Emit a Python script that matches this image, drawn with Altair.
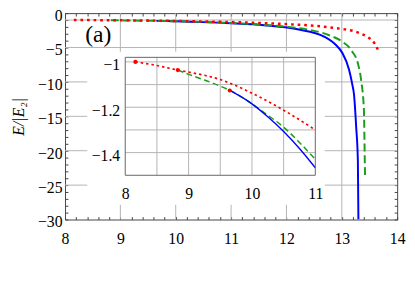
import altair as alt
import pandas as pd

# ---------------- data ----------------
RED_X = [8.16, 8.5, 8.83, 9.0, 9.5, 10.0, 10.5, 11.0, 11.5, 12.0, 12.5, 13.0, 13.2, 13.35, 13.45, 13.55, 13.6, 13.65]
RED_Y = [-1.0, -1.016, -1.036, -1.045, -1.078, -1.138, -1.213, -1.30, -1.42, -1.60, -1.84, -2.3, -2.58, -3.0, -3.4, -4.0, -4.5, -5.3]

GREEN_X = [8.83, 9.0, 9.25, 9.5, 9.75, 10.0, 10.25, 10.5, 10.75, 11.0, 11.6, 12.0, 12.4, 12.8, 13.0, 13.19, 13.29, 13.35, 13.40, 13.41, 13.42]
GREEN_Y = [-1.036, -1.055, -1.08, -1.107, -1.14, -1.185, -1.235, -1.288, -1.355, -1.43, -1.72, -1.98, -2.4, -3.3, -4.1, -5.6, -7.3, -9.8, -14.2, -19.0, -23.8]

BLUE_X = [9.65, 10.0, 10.25, 10.5, 10.75, 11.0, 11.6, 12.2, 12.68, 12.89, 13.01, 13.13, 13.19, 13.22, 13.26, 13.29, 13.30]
BLUE_Y = [-1.126, -1.185, -1.242, -1.307, -1.382, -1.467, -1.75, -2.35, -3.4, -4.6, -5.8, -8.2, -10.4, -11.8, -16.6, -21.4, -30.0]

START_X = [8.16, 8.83, 9.65]
START_Y = [-1.0, -1.036, -1.126]

X_LABELS = [8, 9, 10, 11, 12, 13, 14]
X_GRID = [9, 10, 11, 12, 13]
X_TICKS = [8.0, 8.2, 8.4, 8.6, 8.8, 9.0, 9.2, 9.4, 9.6, 9.8, 10.0, 10.2, 10.4, 10.6, 10.8, 11.0,
           11.2, 11.4, 11.6, 11.8, 12.0, 12.2, 12.4, 12.6, 12.8, 13.0, 13.2, 13.4, 13.6, 13.8, 14.0]
Y_LABELS = [-30, -25, -20, -15, -10, -5, 0]
Y_GRID = [-25, -20, -15, -10, -5, -1]
Y_TICKS = list(range(-30, 1))
INSET_X_LABELS = [8, 9, 10, 11]
INSET_Y_LABELS = [-1.0, -1.2, -1.4]
INSET_GX = [8.5, 9.0, 9.5, 10.0, 10.5]
INSET_GY = [-1.0, -1.1, -1.2, -1.3, -1.4]
PANEL_LABEL = "(a)"
Y_TITLE = "E/|E₂|"

# ---------------- layout / style ----------------
SERIF = "Liberation Serif"
FRAME = "#444444"
GRID = "#b4b4b4"
RED, GREEN, BLUE = "#ff0000", "#1a9e1a", "#0000ff"
W, H = 338, 210
X_DOMAIN, Y_DOMAIN = [8, 14], [-30, 0]
INSET_X_DOMAIN, INSET_Y_DOMAIN = [8, 11], [-1.5, -0.98]
INSET_X_RANGE, INSET_Y_RANGE = [61.3, 254.7], [165, 45]
INSET_BG = {"x0": 7.40, "x1": 11.15, "y0": -1.63, "y1": -0.955}
LABEL_POS = {"x": 8.6, "y": -3.2}


def series_df(xs, ys):
    return pd.DataFrame({"x": xs, "y": ys})


df_red = series_df(RED_X, RED_Y)
df_green = series_df(GREEN_X, GREEN_Y)
df_blue = series_df(BLUE_X, BLUE_Y)
df_start = series_df(START_X, START_Y)

main_x_scale = alt.Scale(domain=X_DOMAIN, nice=False, zero=False)
main_y_scale = alt.Scale(domain=Y_DOMAIN, nice=False, zero=False)


def mx(field, axis):
    return alt.X(f"{field}:Q", scale=main_x_scale, axis=axis)


def my(field, axis):
    return alt.Y(f"{field}:Q", scale=main_y_scale, axis=axis)


label_style = dict(labelFont=SERIF, labelFontSize=16, labelColor="black",
                   labelFlush=False, labelOverlap=False)

# labels (no ticks) on bottom / left
bottom_label_axis = alt.Axis(
    orient="bottom", values=X_LABELS, ticks=False, tickSize=0, domain=False, format="d",
    labelPadding=11, grid=False, title=None, zindex=0, **label_style)
left_label_axis = alt.Axis(
    orient="left", values=Y_LABELS, ticks=False, tickSize=0, domain=False, format="d",
    labelPadding=3, labelOffset=2.5, grid=False,
    title=Y_TITLE, titleFont=SERIF, titleFontStyle="italic", titleFontWeight="normal",
    titleFontSize=16, titleColor="black", titlePadding=11, zindex=0, **label_style)


# inward minor ticks on all four sides
def tick_axis(orient, values):
    return alt.Axis(orient=orient, values=values, offset=-3, tickSize=3, tickColor=FRAME,
                    tickWidth=1, domain=False, labels=False, grid=False, title=None, zindex=0)


# main grid lines as full-span rules
grid_vx = alt.Chart(pd.DataFrame({"gx": X_GRID})).mark_rule(color=GRID, strokeWidth=1).encode(
    x=mx("gx", None))
grid_hy = alt.Chart(pd.DataFrame({"gy": Y_GRID})).mark_rule(color=GRID, strokeWidth=1).encode(
    y=my("gy", None))

blue_main = alt.Chart(df_blue).mark_line(color=BLUE, strokeWidth=2, interpolate="monotone", clip=True).encode(
    x=mx("x", bottom_label_axis), y=my("y", left_label_axis))
green_main = alt.Chart(df_green).mark_line(color=GREEN, strokeWidth=2, strokeDash=[8, 4], interpolate="monotone", clip=True).encode(
    x=mx("x", tick_axis("top", X_TICKS)), y=my("y", tick_axis("right", Y_TICKS)))
red_main = alt.Chart(df_red).mark_line(color=RED, strokeWidth=2.5, strokeDash=[2.7, 4], interpolate="monotone", clip=True).encode(
    x=mx("x", tick_axis("bottom", X_TICKS)), y=my("y", tick_axis("left", Y_TICKS)))
panel_label = alt.Chart(pd.DataFrame({"x": [LABEL_POS["x"]], "y": [LABEL_POS["y"]], "t": [PANEL_LABEL]})).mark_text(
    font=SERIF, fontSize=24, align="center", baseline="middle", color="black").encode(
    x=mx("x", None), y=my("y", None), text="t:N")

main = alt.layer(grid_vx, grid_hy, blue_main, green_main, red_main, panel_label).resolve_axis(
    x="independent", y="independent")

# ---------------- inset ----------------
inset_x_scale = alt.Scale(domain=INSET_X_DOMAIN, range=INSET_X_RANGE, nice=False, zero=False)
inset_y_scale = alt.Scale(domain=INSET_Y_DOMAIN, range=INSET_Y_RANGE, nice=False, zero=False)


def ix(field, axis=None):
    return alt.X(f"{field}:Q", scale=inset_x_scale, axis=axis)


def iy(field, axis=None):
    return alt.Y(f"{field}:Q", scale=inset_y_scale, axis=axis)


inset_x_axis = alt.Axis(orient="bottom", offset=-45, values=INSET_X_LABELS, format="d", ticks=False,
                        tickSize=0, domain=False, grid=False, labelPadding=10.5, title=None,
                        zindex=2, **label_style)
inset_y_axis = alt.Axis(orient="left", offset=-61.3, values=INSET_Y_LABELS, format="~g", ticks=False,
                        tickSize=0, domain=False, grid=False, labelPadding=5.6, labelOffset=3,
                        title=None, zindex=2, **label_style)

bg = alt.Chart(pd.DataFrame([INSET_BG])).mark_rect(fill="white").encode(
    x=ix("x0"), x2=alt.X2("x1"), y=iy("y0"), y2=alt.Y2("y1"))
grid_v = alt.Chart(pd.DataFrame({"gx": INSET_GX, "y0": INSET_Y_DOMAIN[0], "y1": INSET_Y_DOMAIN[1]})).mark_rule(
    color=GRID, strokeWidth=1).encode(x=ix("gx"), y=iy("y0"), y2=alt.Y2("y1"))
grid_h = alt.Chart(pd.DataFrame({"gy": INSET_GY, "x0": INSET_X_DOMAIN[0], "x1": INSET_X_DOMAIN[1]})).mark_rule(
    color=GRID, strokeWidth=1).encode(y=iy("gy"), x=ix("x0"), x2=alt.X2("x1"))
red_in = alt.Chart(df_red).transform_filter("datum.x <= 11").mark_line(
    color=RED, strokeWidth=1.7, strokeDash=[2.5, 3], interpolate="monotone").encode(x=ix("x"), y=iy("y"))
green_in = alt.Chart(df_green).transform_filter("datum.x <= 11").mark_line(
    color=GREEN, strokeWidth=1.5, strokeDash=[6, 3.5], interpolate="monotone").encode(x=ix("x"), y=iy("y"))
blue_in = alt.Chart(df_blue).transform_filter("datum.x <= 11").mark_line(
    color=BLUE, strokeWidth=1.4, interpolate="monotone").encode(x=ix("x"), y=iy("y"))
dots = alt.Chart(df_start).mark_circle(color=RED, size=18, opacity=1).encode(x=ix("x"), y=iy("y"))
frame = alt.Chart(pd.DataFrame({"x0": [INSET_X_DOMAIN[0]], "x1": [INSET_X_DOMAIN[1]],
                                "y0": [INSET_Y_DOMAIN[0]], "y1": [INSET_Y_DOMAIN[1]]})).mark_rect(
    fillOpacity=0, stroke="#666666", strokeWidth=1).encode(
    x=ix("x0", inset_x_axis), x2=alt.X2("x1"), y=iy("y0", inset_y_axis), y2=alt.Y2("y1"))

inset = alt.layer(bg, grid_v, grid_h, red_in, green_in, blue_in, dots, frame).resolve_axis(
    x="independent", y="independent")

chart = alt.layer(main, inset).resolve_scale(x="independent", y="independent").resolve_axis(
    x="independent", y="independent").properties(
    width=W, height=H,
    padding={"left": 58, "top": 3, "right": 10, "bottom": 40},
    autosize=alt.AutoSizeParams(type="none"),
).configure_view(stroke=FRAME, strokeWidth=1)

chart.save("out.html", embed_options={"renderer": "svg", "actions": False})
